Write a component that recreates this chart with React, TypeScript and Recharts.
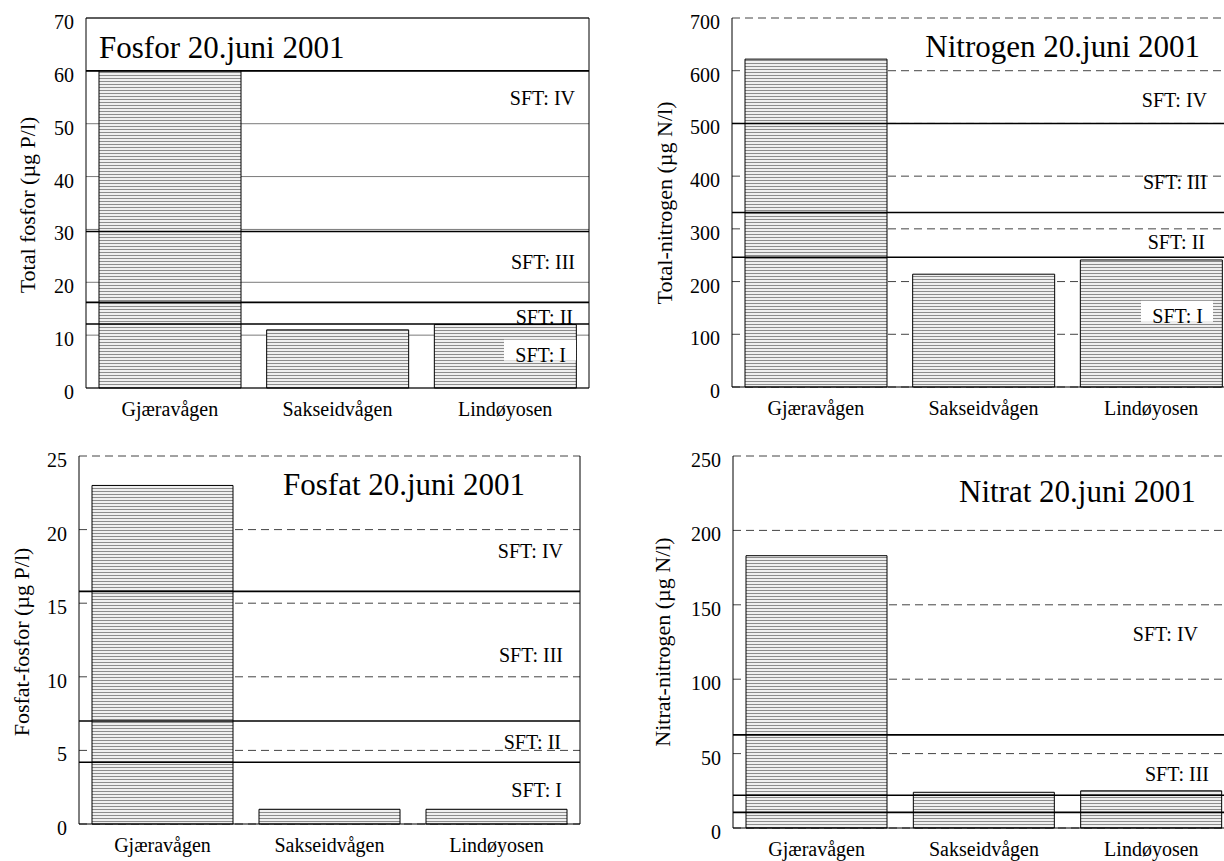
import React from 'react';
import { BarChart, Bar, XAxis, YAxis, CartesianGrid, ReferenceLine } from 'recharts';

const categories = ['Gjæravågen', 'Sakseidvågen', 'Lindøyosen'];

// measured values, 20. juni 2001
const fosforValues = [60, 11, 12];
const nitrogenValues = [622, 214, 241];
const fosfatValues = [23, 1, 1];
const nitratValues = [183, 24, 25];

const fosforTicks = [0, 10, 20, 30, 40, 50, 60, 70];
const nitrogenTicks = [0, 100, 200, 300, 400, 500, 600, 700];
const fosfatTicks = [0, 5, 10, 15, 20, 25];
const nitratTicks = [0, 50, 100, 150, 200, 250];

// SFT class limits
const fosforLimits = [12.1, 16.2, 29.6, 60];
const nitrogenLimits = [246, 331, 500];
const fosfatLimits = [4.2, 7, 15.8];
const nitratLimits = [10.5, 22, 62.6];

// class labels and the value they sit at
const fosforClasses = ['SFT: IV', 'SFT: III', 'SFT: II', 'SFT: I'];
const fosforClassAt = [54.8, 23.9, 13.5, 6.3];
const nitrogenClasses = ['SFT: IV', 'SFT: III', 'SFT: II', 'SFT: I'];
const nitrogenClassAt = [545, 389, 275, 135];
const fosfatClasses = ['SFT: IV', 'SFT: III', 'SFT: II', 'SFT: I'];
const fosfatClassAt = [18.55, 11.5, 5.58, 2.3];
const nitratClasses = ['SFT: IV', 'SFT: III'];
const nitratClassAt = [130.2, 36.3];

const FONT = "'Liberation Serif', 'Times New Roman', serif";
const txt = { fontFamily: FONT };

const YTick = ({ x, y, payload }: any) => (
  <text x={x} y={y + 11} textAnchor="end" fontSize={20} style={txt} fill="#000">
    {payload.value}
  </text>
);

const XTick = ({ x, y, payload }: any) => (
  <text x={x} y={y + 28} textAnchor="middle" fontSize={20} style={txt} fill="#000">
    {payload.value}
  </text>
);

function ClassLabel({ viewBox, text, inset, boxed }: any) {
  const right = viewBox.x + viewBox.width - inset;
  const base = viewBox.y + 7;
  return (
    <g>
      {boxed && <rect x={right - 62} y={base - 22} width={72} height={21} fill="#fff" />}
      <text x={right} y={base} textAnchor="end" fontSize={20} style={txt} fill="#000">
        {text}
      </text>
    </g>
  );
}

function Panel(props: any) {
  const {
    left, top, width, height, margin, yWidth, xHeight,
    values, ticks, limits, classes, classAt, insets, boxed, dashed,
  } = props;
  const data = categories.map((name, i) => ({ name, value: values[i] }));
  const max = ticks[ticks.length - 1];
  return (
    <div style={{ position: 'absolute', left, top }}>
      <BarChart width={width} height={height} data={data} margin={margin} barCategoryGap={13}>
        <CartesianGrid
          vertical={false}
          stroke={dashed ? '#444' : '#7a7a7a'}
          strokeDasharray={dashed ? '8 5' : undefined}
        />
        <XAxis
          dataKey="name"
          height={xHeight}
          interval={0}
          tickLine={false}
          tickSize={0}
          tickMargin={0}
          axisLine={{ stroke: '#000' }}
          tick={XTick}
        />
        <YAxis
          width={yWidth}
          domain={[0, max]}
          ticks={ticks}
          interval={0}
          tickLine={false}
          tickSize={0}
          tickMargin={12}
          axisLine={{ stroke: '#000' }}
          tick={YTick}
        />
        <YAxis
          yAxisId="frame"
          orientation="right"
          width={1}
          domain={[0, max]}
          tick={false}
          tickLine={false}
          axisLine={{ stroke: '#000' }}
        />
        <Bar dataKey="value" fill="url(#hatch)" stroke="#000" strokeWidth={1} isAnimationActive={false} />
        {!dashed && <ReferenceLine y={max} stroke="#000" strokeWidth={1.2} />}
        {limits.map((v: number) => (
          <ReferenceLine key={'l' + v} y={v} stroke="#000" strokeWidth={1.6} />
        ))}
        {classes.map((t: string, i: number) => (
          <ReferenceLine
            key={t}
            y={classAt[i]}
            stroke="none"
            label={(p: any) => (
              <ClassLabel {...p} text={t} inset={insets[i]} boxed={boxed && t === 'SFT: I'} />
            )}
          />
        ))}
      </BarChart>
    </div>
  );
}

export default function App() {
  return (
    <div
      style={{
        position: 'fixed',
        left: 0,
        top: 0,
        width: 1224,
        height: 861,
        overflow: 'hidden',
        background: '#fff',
        fontFamily: FONT,
      }}
    >
      <svg width={0} height={0} style={{ position: 'absolute' }}>
        <defs>
          <pattern id="hatch" width={4} height={3} patternUnits="userSpaceOnUse">
            <rect width={4} height={3} fill="#efefef" />
            <rect width={4} height={1} fill="#8c8c8c" />
          </pattern>
        </defs>
      </svg>

      <Panel
        left={0} top={0} width={600} height={430}
        margin={{ top: 18, right: 10, left: 0, bottom: 0 }}
        yWidth={86} xHeight={42}
        values={fosforValues} ticks={fosforTicks} limits={fosforLimits}
        classes={fosforClasses} classAt={fosforClassAt} insets={[14, 14, 16, 23]}
        boxed dashed={false}
      />
      <Panel
        left={610} top={0} width={636} height={430}
        margin={{ top: 18, right: 10, left: 0, bottom: 0 }}
        yWidth={122} xHeight={43}
        values={nitrogenValues} ticks={nitrogenTicks} limits={nitrogenLimits}
        classes={nitrogenClasses} classAt={nitrogenClassAt} insets={[28, 28, 30, 32]}
        boxed dashed
      />
      <Panel
        left={0} top={440} width={600} height={420}
        margin={{ top: 16, right: 19, left: 0, bottom: 0 }}
        yWidth={79} xHeight={36}
        values={fosfatValues} ticks={fosfatTicks} limits={fosfatLimits}
        classes={fosfatClasses} classAt={fosfatClassAt} insets={[17, 17, 19, 18]}
        boxed={false} dashed
      />
      <Panel
        left={610} top={440} width={636} height={421}
        margin={{ top: 16, right: 10, left: 0, bottom: 0 }}
        yWidth={123} xHeight={33}
        values={nitratValues} ticks={nitratTicks} limits={nitratLimits}
        classes={nitratClasses} classAt={nitratClassAt} insets={[37, 26]}
        boxed={false} dashed
      />

      <svg
        width={1224}
        height={861}
        style={{ position: 'absolute', left: 0, top: 0, pointerEvents: 'none' }}
        fill="#000"
      >
        <text x={99} y={58} fontSize={31} style={txt}>Fosfor 20.juni 2001</text>
        <text x={1200} y={57} fontSize={31} style={txt} textAnchor="end">Nitrogen 20.juni 2001</text>
        <text x={283} y={495} fontSize={31} style={txt}>Fosfat 20.juni 2001</text>
        <text x={959} y={502} fontSize={31} style={txt}>Nitrat 20.juni 2001</text>

        <text transform="translate(27,205) rotate(-90)" fontSize={22} style={txt} textAnchor="middle" dominantBaseline="central">
          Total fosfor (µg P/l)
        </text>
        <text transform="translate(664,203) rotate(-90)" fontSize={22} style={txt} textAnchor="middle" dominantBaseline="central">
          Total-nitrogen (µg N/l)
        </text>
        <text transform="translate(21,642) rotate(-90)" fontSize={22} style={txt} textAnchor="middle" dominantBaseline="central">
          Fosfat-fosfor (µg P/l)
        </text>
        <text transform="translate(662,642) rotate(-90)" fontSize={22} style={txt} textAnchor="middle" dominantBaseline="central">
          Nitrat-nitrogen (µg N/l)
        </text>
      </svg>
    </div>
  );
}
